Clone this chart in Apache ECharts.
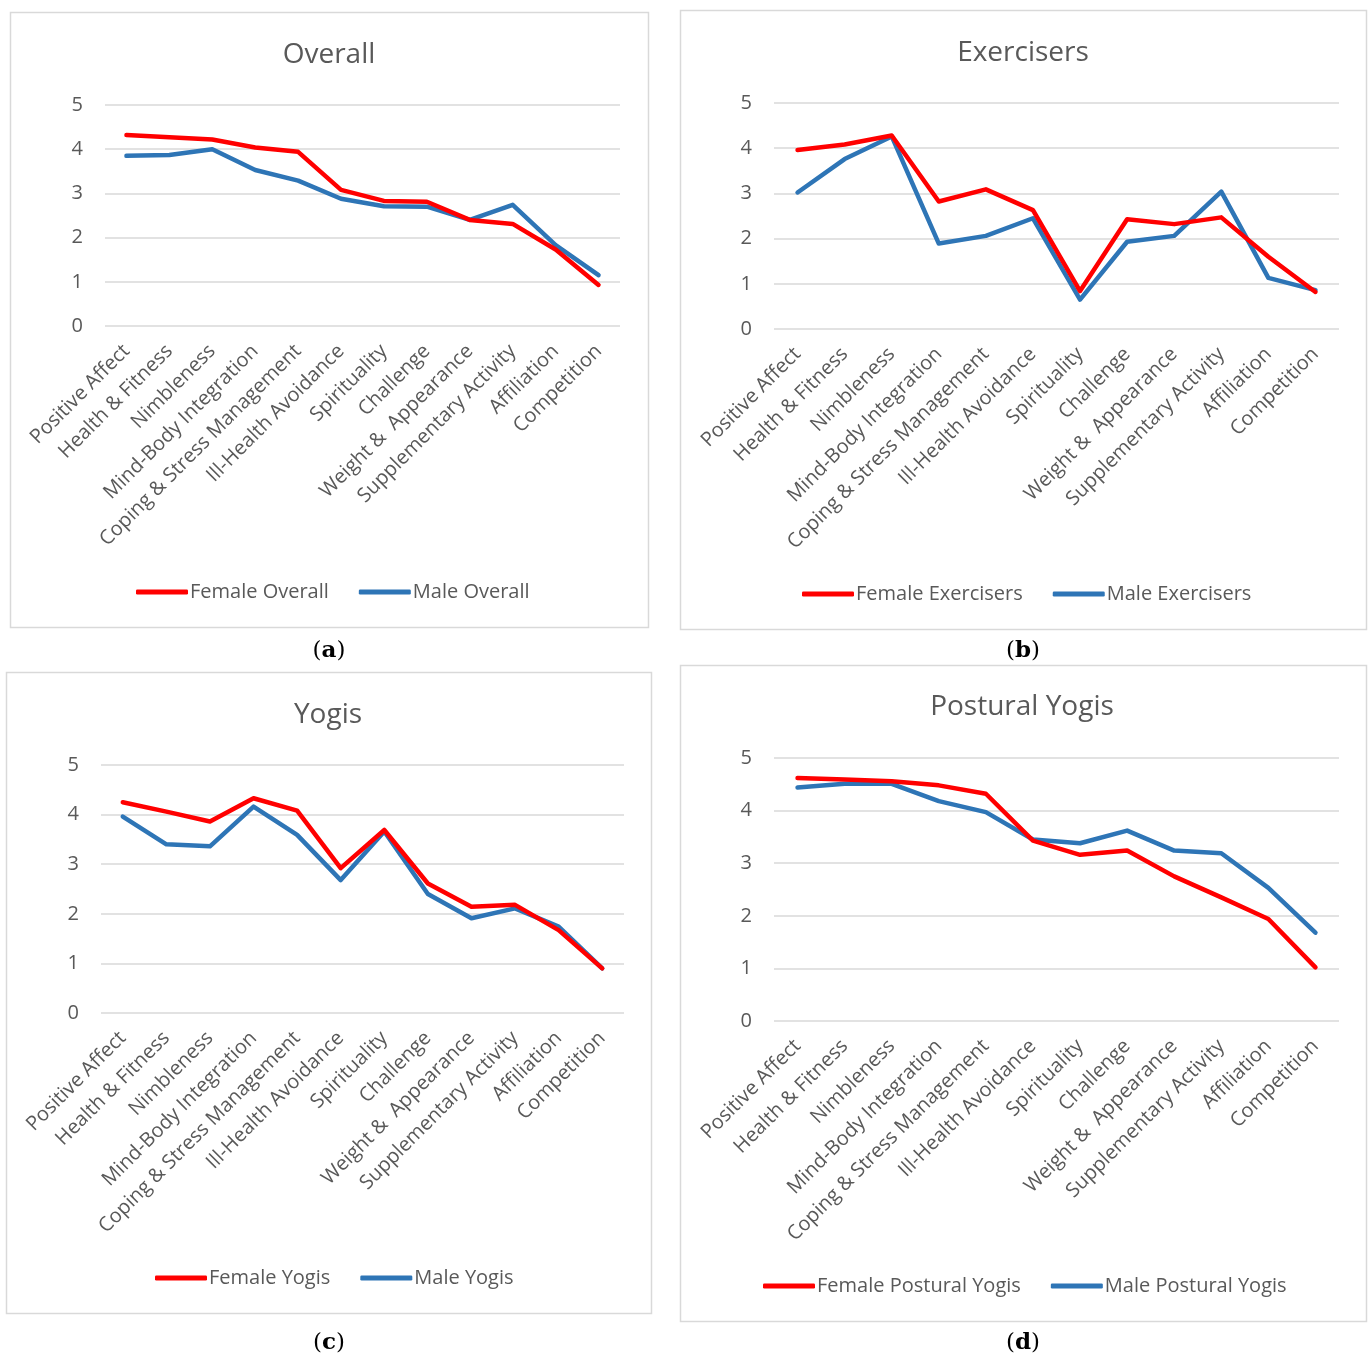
<!DOCTYPE html>
<html>
<head>
<meta charset="utf-8">
<title>Motives by gender</title>
<script src="https://cdn.jsdelivr.net/npm/echarts@6/dist/echarts.min.js"></script>
<style>
  html, body { margin: 0; padding: 0; background: #ffffff; }
  #chart { width: 1370px; height: 1358px; }
</style>
</head>
<body>
<div id="chart"></div>
<script>
// Motive categories shared by all four panels
const categories = [
  'Positive Affect', 'Health & Fitness', 'Nimbleness', 'Mind-Body Integration',
  'Coping & Stress Management', 'Ill-Health Avoidance', 'Spirituality', 'Challenge',
  'Weight &  Appearance', 'Supplementary Activity', 'Affiliation', 'Competition'
];

// Mean motive scores
const femaleOverall = [4.32, 4.27, 4.22, 4.04, 3.94, 3.08, 2.83, 2.81, 2.40, 2.31, 1.73, 0.93];
const maleOverall   = [3.85, 3.87, 4.00, 3.53, 3.29, 2.88, 2.71, 2.70, 2.40, 2.74, 1.83, 1.15];

const femaleExercisers = [3.96, 4.08, 4.28, 2.82, 3.09, 2.63, 0.84, 2.43, 2.32, 2.47, 1.60, 0.82];
const maleExercisers   = [3.02, 3.76, 4.26, 1.89, 2.06, 2.45, 0.65, 1.93, 2.06, 3.04, 1.13, 0.86];

const femaleYogis = [4.25, 4.06, 3.86, 4.33, 4.08, 2.92, 3.69, 2.61, 2.14, 2.18, 1.67, 0.90];
const maleYogis   = [3.96, 3.40, 3.36, 4.16, 3.59, 2.68, 3.66, 2.40, 1.91, 2.11, 1.74, 0.90];

const femalePostural = [4.62, 4.59, 4.56, 4.48, 4.32, 3.43, 3.16, 3.24, 2.75, 2.35, 1.94, 1.02];
const malePostural   = [4.44, 4.51, 4.51, 4.18, 3.97, 3.45, 3.38, 3.62, 3.24, 3.19, 2.53, 1.68];

// Panel definitions: title, series names, data, caption letter
const panels = [
  { title: 'Overall', names: ['Female Overall', 'Male Overall'], data: [femaleOverall, maleOverall], letter: 'a',
    box: [10, 12, 638, 615], grid: [105, 105, 515, 221], titleXY: [324, 36], legendXY: [131, 577], captionXY: [329, 651] },
  { title: 'Exercisers', names: ['Female Exercisers', 'Male Exercisers'], data: [femaleExercisers, maleExercisers], letter: 'b',
    box: [680, 10, 686, 619], grid: [774, 103, 565, 226], titleXY: [1018, 34], legendXY: [797, 579], captionXY: [1023, 651] },
  { title: 'Yogis', names: ['Female Yogis', 'Male Yogis'], data: [femaleYogis, maleYogis], letter: 'c',
    box: [6, 672, 645, 641], grid: [101, 765, 523, 248], titleXY: [323, 696], legendXY: [150, 1263], captionXY: [329, 1343] },
  { title: 'Postural Yogis', names: ['Female Postural Yogis', 'Male Postural Yogis'], data: [femalePostural, malePostural], letter: 'd',
    box: [680, 665, 686, 656], grid: [774, 758, 565, 263], titleXY: [1017, 688], legendXY: [758, 1271], captionXY: [1023, 1343] }
];

const FONT = '"Open Sans", "Noto Sans", sans-serif';
const TEXT = '#595959';
const RED = '#FF0000';
const BLUE = '#2E75B6';

const option = {
  backgroundColor: '#ffffff',
  animation: false,
  title: [], grid: [], xAxis: [], yAxis: [], legend: [], series: [], graphic: []
};

panels.forEach((p, i) => {
  // frame around each panel
  option.graphic.push({
    type: 'rect', silent: true, z: -1,
    shape: { x: p.box[0] + 0.5, y: p.box[1] + 0.5, width: p.box[2], height: p.box[3] },
    style: { fill: 'none', stroke: '#D9D9D9', lineWidth: 1.5 }
  });
  // panel caption (a)..(d)
  option.graphic.push({
    type: 'text', silent: true,
    x: p.captionXY[0], y: p.captionXY[1],
    style: {
      text: '{n|(}{b|' + p.letter + '}{n|)}',
      align: 'center', verticalAlign: 'middle',
      rich: {
        n: { fontFamily: '"DejaVu Serif", "Liberation Serif", serif', fontSize: 23, fill: '#000' },
        b: { fontFamily: '"DejaVu Serif", "Liberation Serif", serif', fontSize: 23, fontWeight: 'bold', fill: '#000' }
      }
    }
  });

  option.title.push({
    text: p.title, left: p.titleXY[0], top: p.titleXY[1], textAlign: 'center',
    textStyle: { fontFamily: FONT, fontSize: 28, fontWeight: 'normal', color: TEXT }
  });

  option.grid.push({ left: p.grid[0], top: p.grid[1], width: p.grid[2], height: p.grid[3], containLabel: false });

  option.xAxis.push({
    type: 'category', gridIndex: i, data: categories, boundaryGap: true,
    axisLine: { show: false }, axisTick: { show: false },
    axisLabel: { interval: 0, rotate: 45, margin: 22, fontFamily: FONT, fontSize: 20, color: TEXT }
  });

  option.yAxis.push({
    type: 'value', gridIndex: i, min: 0, max: 5, interval: 1,
    axisLine: { show: false }, axisTick: { show: false },
    axisLabel: { margin: 22, fontFamily: FONT, fontSize: 20, color: TEXT },
    splitLine: { lineStyle: { color: '#D9D9D9', width: 1.5 } }
  });

  option.legend.push({
    left: p.legendXY[0], top: p.legendXY[1], orient: 'horizontal',
    data: p.names, itemWidth: 52, itemHeight: 5, itemGap: 30, icon: 'roundRect',
    textStyle: { fontFamily: FONT, fontSize: 20, color: TEXT, padding: [0, 0, 0, -3] }
  });

  [RED, BLUE].forEach((c, k) => {
    option.series.push({
      type: 'line', name: p.names[k], xAxisIndex: i, yAxisIndex: i,
      data: p.data[k], showSymbol: false, symbol: 'none',
      z: k === 0 ? 3 : 2,
      color: c,
      lineStyle: { color: c, width: 4.5, cap: 'round', join: 'round' }
    });
  });
});

const chart = echarts.init(document.getElementById('chart'), null, { renderer: 'canvas' });
chart.setOption(option);
</script>
</body>
</html>
